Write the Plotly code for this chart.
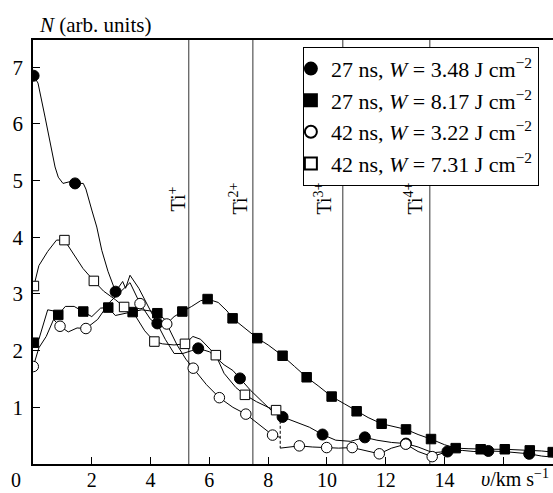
import plotly.graph_objects as go

# ---------------- data ----------------
# 27 ns, W = 3.48 J/cm2  (filled circles)
a_line_x = [0.02, 0.17, 0.41, 0.58, 0.75, 0.86, 1.02, 1.25, 1.43, 1.71, 1.8, 2.0, 2.17, 2.34, 2.55, 2.81,
            3.05, 3.15, 3.3, 3.6, 3.9, 4.23, 4.5, 4.8, 5.1, 5.4, 5.62, 6.0, 6.5, 6.8, 7.04, 7.4, 7.8, 8.2,
            8.49, 8.9, 9.4, 9.85, 10.3, 10.8, 11.29, 11.7, 12.2, 12.69, 13.1, 13.6, 14.1, 14.6, 15.0, 15.49,
            16.0, 16.5, 16.88, 17.3, 17.7]
a_line_y = [6.85, 6.72, 6.12, 5.66, 5.24, 5.06, 4.95, 4.98, 4.95, 4.95, 4.85, 4.48, 4.18, 3.77, 3.4, 3.04,
            3.22, 3.1, 3.33, 3.1, 2.8, 2.48, 2.2, 1.95, 1.95, 2.0, 2.04, 1.98, 1.75, 1.65, 1.51, 1.3, 1.1, 0.9,
            0.83, 0.75, 0.65, 0.52, 0.42, 0.4, 0.47, 0.42, 0.38, 0.36, 0.3, 0.2, 0.22, 0.24, 0.22, 0.23,
            0.22, 0.2, 0.18, 0.14, 0.12]
a_mark_x = [0.02, 1.43, 2.81, 4.23, 5.62, 7.04, 8.49, 9.85, 11.29, 12.69, 14.1, 15.49, 16.88]
a_mark_y = [6.85, 4.95, 3.04, 2.48, 2.04, 1.51, 0.83, 0.52, 0.47, 0.36, 0.22, 0.23, 0.18]

# 27 ns, W = 8.17 J/cm2  (filled squares)
b_line_x = [0.03, 0.2, 0.5, 0.7, 0.86, 1.1, 1.4, 1.71, 2.0, 2.3, 2.56, 2.8, 3.1, 3.39, 3.7, 4.0, 4.23, 4.6,
            4.8, 5.08, 5.4, 5.7, 5.94, 6.3, 6.6, 6.79, 7.2, 7.63, 8.0, 8.49, 8.9, 9.31, 9.7, 10.16, 10.6,
            11.01, 11.4, 11.86, 12.3, 12.69, 13.1, 13.54, 14.0, 14.38, 14.8, 15.23, 15.6, 16.05, 16.5, 16.9,
            17.3, 17.68]
b_line_y = [2.14, 2.2, 2.72, 2.7, 2.63, 2.78, 2.78, 2.69, 2.6, 2.75, 2.76, 2.62, 2.65, 2.68, 2.72, 2.7, 2.66,
            2.5, 2.6, 2.69, 2.78, 2.88, 2.91, 2.85, 2.7, 2.57, 2.4, 2.22, 2.1, 1.91, 1.72, 1.53, 1.38, 1.19,
            1.06, 0.93, 0.82, 0.71, 0.66, 0.61, 0.52, 0.44, 0.34, 0.28, 0.27, 0.26, 0.26, 0.26, 0.25, 0.24,
            0.23, 0.21]
b_mark_x = [0.03, 0.86, 1.71, 2.56, 3.39, 4.23, 5.08, 5.94, 6.79, 7.63, 8.49, 9.31, 10.16, 11.01, 11.86,
            12.69, 13.54, 14.38, 15.23, 16.05, 16.9, 17.68]
b_mark_y = [2.14, 2.63, 2.69, 2.76, 2.68, 2.66, 2.69, 2.91, 2.57, 2.22, 1.91, 1.53, 1.19, 0.93, 0.71,
            0.61, 0.44, 0.28, 0.26, 0.26, 0.24, 0.21]

# 42 ns, W = 3.22 J/cm2  (open circles)
c_line_x = [0.01, 0.2, 0.45, 0.7, 0.92, 1.2, 1.5, 1.8, 2.2, 2.6, 3.0, 3.3, 3.64, 4.0, 4.3, 4.55, 4.9, 5.2,
            5.45, 5.9, 6.34, 6.8, 7.24, 7.7, 8.15, 8.41, None, 8.41, 9.06, 9.5, 9.99, 10.4, 10.86, 11.3,
            11.78, 12.2, 12.68, 13.1, 13.58, 14.1]
c_line_y = [1.72, 2.05, 2.25, 2.55, 2.43, 2.33, 2.4, 2.39, 2.55, 2.85, 3.05, 3.2, 2.83, 2.55, 2.45, 2.47,
            2.1, 1.85, 1.69, 1.4, 1.17, 1.0, 0.88, 0.7, 0.51, 0.47, None, 0.28, 0.32, 0.3, 0.29, 0.28, 0.29,
            0.24, 0.18, 0.28, 0.35, 0.22, 0.13, 0.22]
c_mark_x = [0.01, 0.92, 1.8, 3.64, 4.55, 5.45, 6.34, 7.24, 8.15, 9.06, 9.99, 10.86, 11.78, 12.68, 13.58]
c_mark_y = [1.72, 2.43, 2.39, 2.83, 2.47, 1.69, 1.17, 0.88, 0.51, 0.32, 0.29, 0.29, 0.18, 0.35, 0.13]

# 42 ns, W = 7.31 J/cm2  (open squares)
d_line_x = [0.03, 0.2, 0.5, 0.8, 1.07, 1.4, 1.7, 2.07, 2.4, 2.8, 3.1, 3.5, 3.8, 4.13, 4.4, 4.8, 5.17,
            5.44, 5.7, 6.22, 6.5, 6.9, 7.21, 7.6, 8.0, 8.27, 8.41]
d_line_y = [3.14, 3.5, 3.75, 3.95, 3.95, 3.7, 3.45, 3.23, 3.05, 2.9, 2.77, 2.6, 2.35, 2.16, 2.12, 2.1, 2.12,
            2.25, 2.2, 1.92, 1.6, 1.35, 1.22, 1.1, 1.0, 0.95, 0.85]
d_mark_x = [0.03, 1.07, 2.07, 3.1, 4.13, 5.17, 6.22, 7.21, 8.27]
d_mark_y = [3.14, 3.95, 3.23, 2.77, 2.16, 2.12, 1.92, 1.22, 0.95]

# dashed drop
dash_x = [8.41, 8.41]
dash_y = [0.85, 0.28]

# ion velocities
ion_v = [5.3, 7.48, 10.54, 13.5]
ion_labels = ["Ti<sup>+</sup>", "Ti<sup>2+</sup>", "Ti<sup>3+</sup>", "Ti<sup>4+</sup>"]
ion_label_shift = [-12, -15, -20, -17]

legend_names = ["27 ns, <i>W</i> = 3.48 J cm<sup>\u22122</sup>",
                "27 ns, <i>W</i> = 8.17 J cm<sup>\u22122</sup>",
                "42 ns, <i>W</i> = 3.22 J cm<sup>\u22122</sup>",
                "42 ns, <i>W</i> = 7.31 J cm<sup>\u22122</sup>"]

x_ticks = [0, 2, 4, 6, 8, 10, 12, 14, 16]
x_ticktext = [" ", "2", "4", "6", "8", "10", "12", "14", " "]
y_ticks = [1, 2, 3, 4, 5, 6, 7]

FONT = "Liberation Serif"
fig = go.Figure()

lines = [(a_line_x, a_line_y), (b_line_x, b_line_y), (c_line_x, c_line_y), (d_line_x, d_line_y)]
for lx, ly in lines:
    fig.add_trace(go.Scatter(x=lx, y=ly, mode="lines", line=dict(color="black", width=1),
                             showlegend=False, hoverinfo="skip", connectgaps=False))

fig.add_trace(go.Scatter(x=dash_x, y=dash_y, mode="lines", line=dict(color="black", width=1, dash="3px,2px"),
                         showlegend=False, hoverinfo="skip"))

marks = [
    (a_mark_x, a_mark_y, "circle", "black", 11),
    (b_mark_x, b_mark_y, "square", "black", 9.5),
    (c_mark_x, c_mark_y, "circle", "white", 10.5),
    (d_mark_x, d_mark_y, "square", "white", 9.5),
]
for (mx, my, sym, fill, sz), name in zip(marks, legend_names):
    fig.add_trace(go.Scatter(x=mx, y=my, mode="markers", name=name,
                             marker=dict(symbol=sym, color=fill, size=sz,
                                         line=dict(color="black", width=1))))

for v, lab, sh in zip(ion_v, ion_labels, ion_label_shift):
    fig.add_shape(type="line", x0=v, x1=v, y0=0, y1=1, xref="x", yref="paper",
                  line=dict(color="#333333", width=1), layer="below")
    fig.add_annotation(x=v, y=4.68, xref="x", yref="y", text=lab, showarrow=False,
                       textangle=-90, xshift=sh, font=dict(family=FONT, size=20, color="black"))

fig.add_annotation(x=0, y=1, xref="paper", yref="paper", xanchor="left", yanchor="bottom",
                   text="<i>N</i> (arb. units)", showarrow=False, xshift=4, yshift=1,
                   font=dict(family=FONT, size=21, color="black"))
fig.add_annotation(x=0, y=0, xref="paper", yref="paper", xanchor="right", yanchor="top",
                   text="0", showarrow=False, xshift=-10, yshift=-3,
                   font=dict(family=FONT, size=20, color="black"))
fig.add_annotation(x=16, y=0, xref="x", yref="paper", xanchor="center", yanchor="top",
                   text="<i>\u03c5</i>/km s<sup>\u22121</sup>", showarrow=False, xshift=12, yshift=0,
                   font=dict(family=FONT, size=20, color="black"))

fig.update_layout(
    width=553, height=493,
    margin=dict(l=33, r=0, t=40, b=29, autoexpand=False),
    paper_bgcolor="white", plot_bgcolor="white",
    font=dict(family=FONT, size=21, color="black"),
    legend=dict(x=0.519, y=0.984, xanchor="left", yanchor="top", bgcolor="white",
                bordercolor="black", borderwidth=1, font=dict(family=FONT, size=22, color="black"),
                indentation=-13, itemsizing="constant", tracegroupgap=0),
    xaxis=dict(range=[0, 17.69], tickvals=x_ticks, ticktext=x_ticktext, ticks="inside", ticklen=7,
               tickcolor="black", showline=True, linecolor="black", linewidth=1.5, mirror=True,
               showgrid=False, zeroline=False, ticklabelstandoff=-3,
               tickfont=dict(family=FONT, size=20, color="black")),
    yaxis=dict(range=[0, 7.48], tickvals=y_ticks, ticks="inside", ticklen=7, tickcolor="black",
               showline=True, linecolor="black", linewidth=1.5, showgrid=False, zeroline=False,
               ticklabelstandoff=4, tickfont=dict(family=FONT, size=21, color="black")),
)

fig.write_html("out.html")
